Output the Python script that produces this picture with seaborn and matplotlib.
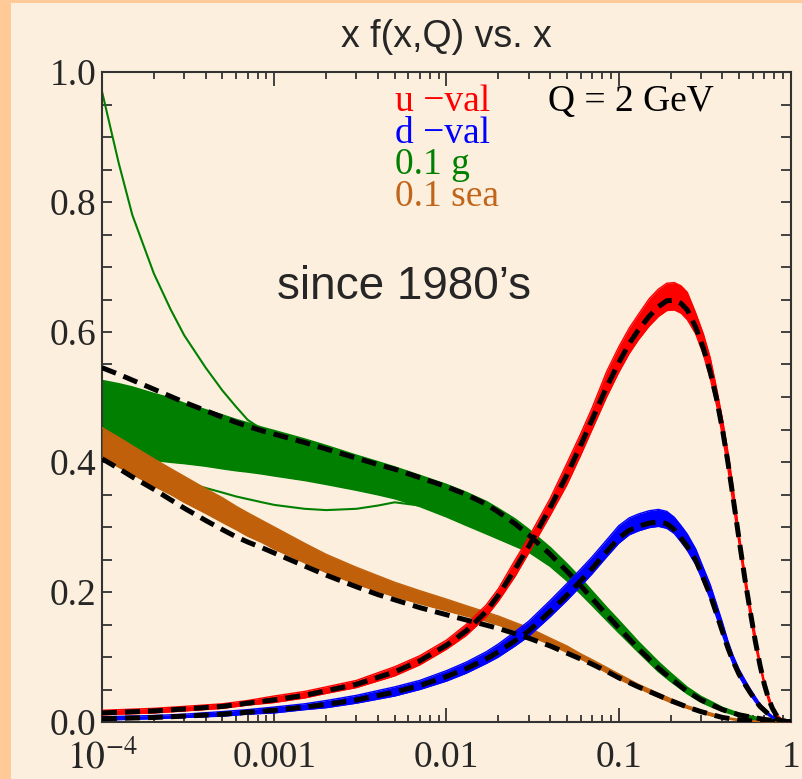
import matplotlib
matplotlib.use("Agg")
import matplotlib.pyplot as plt
import seaborn as sns
from matplotlib.patches import Rectangle
from matplotlib.ticker import FixedLocator, FixedFormatter, LogLocator, MultipleLocator, NullFormatter

# x grid for the valence curves
xv = [1e-4, 2e-4, 3e-4, 5e-4, 7e-4, 1e-3, 1.5e-3, 2e-3, 3e-3, 5e-3, 7e-3, 0.01, 0.013, 0.017, 0.02, 0.025,
      0.03, 0.04, 0.05, 0.06, 0.07, 0.085, 0.1, 0.115, 0.13, 0.15, 0.17, 0.19, 0.21, 0.23, 0.25, 0.28,
      0.31, 0.34, 0.37, 0.4, 0.43, 0.46, 0.5, 0.54, 0.58, 0.62, 0.66, 0.7, 0.74, 0.78, 0.82, 0.86, 0.9, 0.95, 1.0]

# u-val: old fit (dashed) and the band of error sets
u_dash = [0.014, 0.017, 0.020, 0.024, 0.029, 0.034, 0.041, 0.048, 0.058, 0.077, 0.094, 0.118, 0.14, 0.17, 0.195, 0.235,
          0.27, 0.33, 0.38, 0.425, 0.465, 0.515, 0.553, 0.582, 0.603, 0.624, 0.639, 0.648, 0.649, 0.644, 0.634, 0.607,
          0.575, 0.538, 0.497, 0.45, 0.40, 0.347, 0.28, 0.22, 0.17, 0.125, 0.088, 0.058, 0.036, 0.021, 0.011, 0.005,
          0.002, 0.0005, 0]
u_hi = [0.018, 0.021, 0.024, 0.028, 0.033, 0.040, 0.047, 0.054, 0.064, 0.085, 0.102, 0.126, 0.15, 0.18, 0.205, 0.249,
        0.284, 0.344, 0.398, 0.443, 0.483, 0.539, 0.577, 0.606, 0.627, 0.651, 0.666, 0.675, 0.676, 0.671, 0.661, 0.629,
        0.597, 0.560, 0.513, 0.466, 0.416, 0.363, 0.289, 0.229, 0.179, 0.134, 0.093, 0.063, 0.041, 0.023, 0.013, 0.007,
        0.003, 0.001, 0]
u_lo = [0.011, 0.014, 0.017, 0.021, 0.026, 0.030, 0.037, 0.044, 0.053, 0.071, 0.088, 0.112, 0.133, 0.162, 0.186, 0.224,
        0.26, 0.318, 0.365, 0.41, 0.45, 0.50, 0.538, 0.567, 0.588, 0.609, 0.624, 0.633, 0.634, 0.629, 0.619, 0.597,
        0.565, 0.528, 0.487, 0.44, 0.39, 0.337, 0.273, 0.213, 0.163, 0.118, 0.085, 0.055, 0.033, 0.018, 0.009, 0.003,
        0.001, 0.0003, 0]

# d-val
d_dash = [0.005, 0.007, 0.009, 0.012, 0.015, 0.018, 0.023, 0.027, 0.034, 0.046, 0.056, 0.07, 0.082, 0.097, 0.108, 0.125,
          0.14, 0.17, 0.195, 0.217, 0.236, 0.262, 0.283, 0.295, 0.301, 0.306, 0.308, 0.305, 0.296, 0.283, 0.27, 0.249,
          0.221, 0.195, 0.166, 0.139, 0.114, 0.094, 0.073, 0.058, 0.045, 0.034, 0.024, 0.018, 0.012, 0.008, 0.005, 0.003,
          0.0015, 0.0005, 0]
d_hi = [0.008, 0.010, 0.012, 0.016, 0.019, 0.023, 0.028, 0.033, 0.041, 0.054, 0.064, 0.079, 0.092, 0.108, 0.12, 0.139,
        0.155, 0.187, 0.213, 0.235, 0.254, 0.28, 0.302, 0.314, 0.32, 0.325, 0.327, 0.324, 0.315, 0.302, 0.289, 0.266,
        0.237, 0.211, 0.181, 0.153, 0.125, 0.103, 0.081, 0.065, 0.051, 0.039, 0.028, 0.021, 0.014, 0.009, 0.006, 0.004,
        0.002, 0.0006, 0]
d_lo = [0.003, 0.005, 0.007, 0.009, 0.012, 0.014, 0.019, 0.022, 0.029, 0.04, 0.05, 0.063, 0.075, 0.09, 0.10, 0.117,
        0.132, 0.162, 0.187, 0.209, 0.228, 0.254, 0.275, 0.288, 0.294, 0.299, 0.301, 0.298, 0.29, 0.277, 0.264, 0.242,
        0.215, 0.189, 0.161, 0.134, 0.11, 0.09, 0.07, 0.055, 0.042, 0.031, 0.022, 0.016, 0.01, 0.006, 0.004, 0.002,
        0.001, 0.0003, 0]

# x grid for gluon and sea
xg = [1e-4, 1.25e-4, 1.5e-4, 2e-4, 2.5e-4, 3e-4, 4e-4, 5e-4, 6e-4, 7e-4, 8.5e-4, 1e-3, 1.5e-3, 2e-3, 3e-3,
      4e-3, 5e-3, 7e-3, 0.01, 0.013, 0.017, 0.02, 0.025, 0.03, 0.04, 0.05, 0.06, 0.07, 0.085, 0.1, 0.13,
      0.17, 0.2, 0.25, 0.3, 0.35, 0.4, 0.5, 0.6, 0.7, 0.8, 0.9, 1.0]

# 0.1 g
g_dash = [0.545, 0.535, 0.526, 0.512, 0.501, 0.492, 0.479, 0.469, 0.461, 0.455, 0.448, 0.443, 0.43, 0.42, 0.406,
          0.396, 0.389, 0.376, 0.362, 0.35, 0.335, 0.323, 0.305, 0.288, 0.258, 0.232, 0.21, 0.19, 0.165, 0.145, 0.113,
          0.083, 0.067, 0.047, 0.034, 0.026, 0.019, 0.011, 0.007, 0.004, 0.002, 0.001, 0]
g_hi = [0.525, 0.52, 0.515, 0.505, 0.498, 0.49, 0.48, 0.472, 0.465, 0.46, 0.453, 0.448, 0.435, 0.425, 0.41,
        0.40, 0.392, 0.379, 0.365, 0.353, 0.339, 0.328, 0.312, 0.296, 0.268, 0.243, 0.221, 0.201, 0.176, 0.156, 0.123,
        0.092, 0.075, 0.053, 0.039, 0.03, 0.022, 0.013, 0.008, 0.005, 0.0025, 0.001, 0]
g_lo = [0.41, 0.408, 0.406, 0.403, 0.40, 0.398, 0.394, 0.39, 0.387, 0.385, 0.382, 0.379, 0.372, 0.366, 0.357,
        0.35, 0.344, 0.332, 0.316, 0.303, 0.29, 0.282, 0.271, 0.262, 0.24, 0.218, 0.198, 0.18, 0.157, 0.138, 0.108,
        0.078, 0.063, 0.044, 0.031, 0.023, 0.017, 0.009, 0.005, 0.003, 0.0015, 0.0005, 0]
g_outlier = [0.97, 0.86, 0.78, 0.69, 0.635, 0.595, 0.545, 0.51, 0.485, 0.465, 0.45, 0.44, 0.425, 0.415, 0.40,
             0.39, 0.383, 0.37, 0.355, 0.343, 0.33, 0.318, 0.302, 0.287, 0.258, 0.234, 0.212, 0.193, 0.168, 0.148,
             0.116, 0.086, 0.07, 0.049, 0.036, 0.027, 0.02, 0.012, 0.007, 0.004, 0.002, 0.001, 0]
g_low = [0.41, 0.40, 0.393, 0.383, 0.376, 0.37, 0.36, 0.353, 0.347, 0.343, 0.338, 0.334, 0.328, 0.326, 0.328,
         0.333, 0.338, 0.333, 0.32, 0.306, 0.293, 0.285, 0.274, 0.265, 0.242, 0.22, 0.2, 0.182, 0.159, 0.14, 0.11,
         0.08, 0.064, 0.045, 0.032, 0.024, 0.018, 0.01, 0.006, 0.003, 0.0015, 0.0005, 0]

# 0.1 sea
sea_dash = [0.405, 0.39, 0.377, 0.358, 0.342, 0.329, 0.31, 0.296, 0.285, 0.277, 0.268, 0.26, 0.24, 0.226, 0.208,
            0.196, 0.188, 0.176, 0.165, 0.157, 0.149, 0.144, 0.136, 0.129, 0.117, 0.106, 0.097, 0.089, 0.078, 0.068,
            0.054, 0.041, 0.033, 0.023, 0.016, 0.011, 0.007, 0.003, 0.0015, 0.0007, 0.0003, 0.0001, 0]
sea_hi = [0.453, 0.438, 0.425, 0.405, 0.39, 0.378, 0.359, 0.345, 0.332, 0.322, 0.31, 0.30, 0.275, 0.258, 0.238,
          0.225, 0.215, 0.202, 0.189, 0.179, 0.169, 0.163, 0.153, 0.145, 0.129, 0.117, 0.105, 0.096, 0.084, 0.074,
          0.058, 0.044, 0.036, 0.025, 0.018, 0.013, 0.008, 0.004, 0.0022, 0.0011, 0.0005, 0.0002, 0]
sea_lo = [0.407, 0.392, 0.381, 0.363, 0.35, 0.338, 0.321, 0.307, 0.296, 0.286, 0.276, 0.266, 0.245, 0.23, 0.212,
          0.201, 0.193, 0.182, 0.171, 0.163, 0.155, 0.149, 0.141, 0.133, 0.119, 0.107, 0.097, 0.088, 0.076, 0.066,
          0.052, 0.038, 0.03, 0.021, 0.014, 0.009, 0.006, 0.002, 0.0008, 0.0003, 0.0001, 0, 0]

xtick_vals = [1e-4, 1e-3, 1e-2, 1e-1, 1.0]
xtick_labels = ["$10^{-4}$", "0.001", "0.01", "0.1", "1"]
legend_labels = ["u \u2212val", "d \u2212val", "0.1 g", "0.1 sea"]

cream = "#fcefdd"
peach = "#ffc998"
red, blue, green, brown = "#ff0000", "#0000ff", "#007f00", "#c0600a"

sns.set_style("ticks")
plt.rcParams["font.family"] = ["Liberation Serif", "DejaVu Serif"]
plt.rcParams["mathtext.fontset"] = "stix"

W, H = 803, 779
fig = plt.figure(figsize=(W / 100, H / 100), dpi=100, facecolor=cream)
fig.add_artist(Rectangle((0, 0), 11 / W, 1, transform=fig.transFigure, color=peach, lw=0, zorder=0))
fig.add_artist(Rectangle((0, 1 - 3 / H), 1, 3 / H, transform=fig.transFigure, color=peach, lw=0, zorder=0))

ax = fig.add_axes([102 / W, 57 / H, 689 / W, 650 / H])
ax.set_facecolor(cream)
ax.set_xscale("log")

# gluon bundle
ax.fill_between(xg, g_lo, g_hi, color=green, lw=0, zorder=2)
for yy in [g_hi, g_lo, g_outlier, g_low]:
    sns.lineplot(x=xg, y=yy, ax=ax, color=green, lw=1.5, errorbar=None, zorder=2)

# sea bundle
ax.fill_between(xg, sea_lo, sea_hi, color=brown, lw=0, zorder=3)
for yy in [sea_lo, sea_hi]:
    sns.lineplot(x=xg, y=yy, ax=ax, color=brown, lw=1.0, errorbar=None, zorder=3)

# valence bundles
ax.fill_between(xv, d_lo, d_hi, color=blue, lw=0, zorder=4)
for yy in [d_lo, d_hi]:
    sns.lineplot(x=xv, y=yy, ax=ax, color=blue, lw=1.0, errorbar=None, zorder=4)
ax.fill_between(xv, u_lo, u_hi, color=red, lw=0, zorder=5)
for yy in [u_lo, u_hi]:
    sns.lineplot(x=xv, y=yy, ax=ax, color=red, lw=1.0, errorbar=None, zorder=5)

# old fit, dashed black
for xx, yy in [(xg, g_dash), (xg, sea_dash), (xv, d_dash), (xv, u_dash)]:
    sns.lineplot(x=xx, y=yy, ax=ax, color="black", lw=3.6, errorbar=None, zorder=6)
    ax.lines[-1].set_dashes((3.0, 1.6))
    ax.lines[-1].set_dash_capstyle("butt")

ax.set_xlim(1e-4, 1.0)
ax.set_ylim(0, 1.0)
ax.set_xlabel("")
ax.set_ylabel("")

ax.xaxis.set_major_locator(FixedLocator(xtick_vals))
ax.xaxis.set_major_formatter(FixedFormatter(xtick_labels))
ax.xaxis.set_minor_locator(LogLocator(base=10, subs=range(2, 10)))
ax.xaxis.set_minor_formatter(NullFormatter())
ax.yaxis.set_major_locator(MultipleLocator(0.2))
ax.yaxis.set_minor_locator(MultipleLocator(0.05))
ax.yaxis.set_major_formatter(plt.FuncFormatter(lambda v, p: f"{v:.1f}"))

ax.tick_params(which="both", direction="in", top=True, right=True, color="#333333", width=1.3)
ax.tick_params(axis="x", which="major", length=10, labelsize=27, pad=13)
ax.tick_params(axis="x", which="minor", length=5)
ax.tick_params(axis="y", which="both", length=7, labelsize=27, pad=4)
for s in ax.spines.values():
    s.set_color("#333333")
    s.set_linewidth(1.5)

# title and annotations
fig.text(446 / W, 1 - 37 / H, "x f(x,Q) vs. x", ha="center", va="center", fontsize=27,
         family=["Liberation Sans", "DejaVu Sans"])
fig.text(404 / W, 1 - 287 / H, "since 1980\u2019s", ha="center", va="center", fontsize=33,
         family=["Liberation Sans", "DejaVu Sans"])
leg_colors = [red, blue, green, "#c0651a"]
for i, (lab, c) in enumerate(zip(legend_labels, leg_colors)):
    fig.text(395 / W, 1 - (102 + 31.5 * i) / H, lab, ha="left", va="center", fontsize=27, color=c)
fig.text(548 / W, 1 - 102 / H, "Q = 2 GeV", ha="left", va="center", fontsize=27, color="black")

fig.savefig("out.png", dpi=100, facecolor=cream)
